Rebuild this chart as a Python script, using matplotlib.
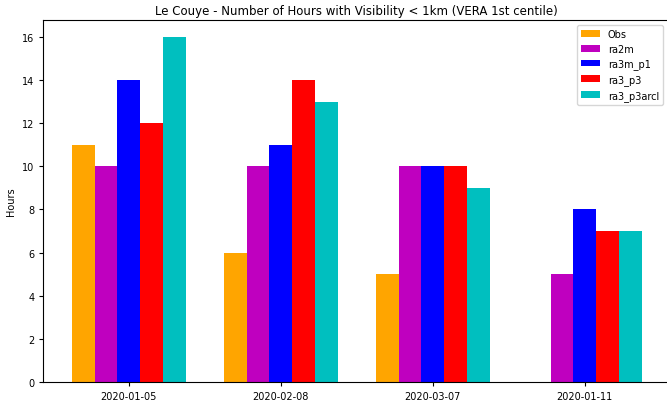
import matplotlib
matplotlib.use("Agg")
import matplotlib.pyplot as plt
import numpy as np

dates = ["2020-01-05", "2020-02-08", "2020-03-07", "2020-01-11"]
series_names = ["Obs", "ra2m", "ra3m_p1", "ra3_p3", "ra3_p3arcl"]
obs = [11, 6, 5, np.nan]
ra2m = [10, 10, 10, 5]
ra3m_p1 = [14, 11, 10, 8]
ra3_p3 = [12, 14, 10, 7]
ra3_p3arcl = [16, 13, 9, 7]
colors = ["orange", "m", "b", "r", "c"]

fig = plt.figure(figsize=(6.67, 4.02), dpi=100)
ax = fig.add_axes([43.3/667, 19/402, 627/667, 362.3/402])
x = np.arange(len(dates))
w = 0.15
for i, (name, vals, col) in enumerate(zip(series_names, [obs, ra2m, ra3m_p1, ra3_p3, ra3_p3arcl], colors)):
    ax.bar(x + (i - 2) * w, vals, w, label=name, color=col)
ax.set_xticks(x)
ax.set_xticklabels(dates, fontsize=7)
ax.tick_params(axis="both", labelsize=7, length=3)
ax.set_xlim(-0.5625, 3.5625)
ax.set_ylim(0, 16.8)
ax.set_ylabel("Hours", fontsize=7)
ax.set_title("Le Couye - Number of Hours with Visibility < 1km (VERA 1st centile)", fontsize=8.5, pad=4)
fig.legend(loc="upper right", fontsize=7, bbox_to_anchor=(668/667, 1 - 21/402))
fig.savefig("out.png", dpi=100)
